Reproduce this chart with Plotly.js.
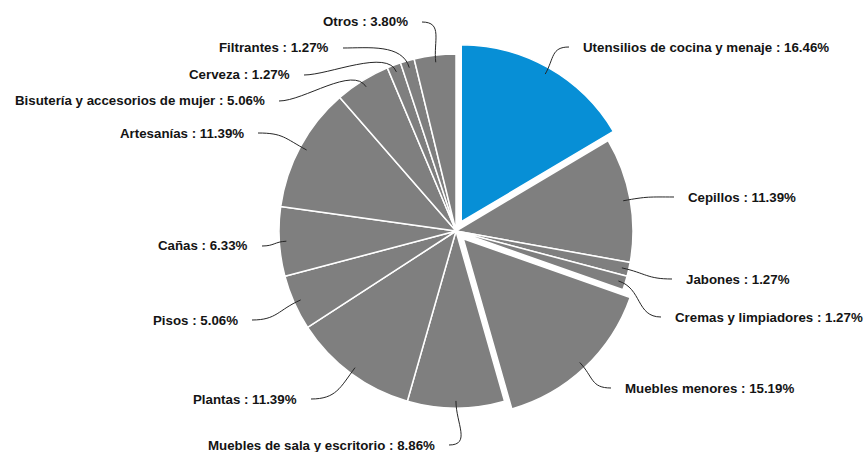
<!DOCTYPE html>
<html>
<head>
<meta charset="utf-8">
<script src="https://cdn.plot.ly/plotly-3.0.1.min.js"></script>
<style>
  body { margin: 0; background: #fff; }
  #chart { width: 867px; height: 452px; }
</style>
</head>
<body>
<div id="chart"></div>
<script>
// datos del grafico (porcentaje por categoria)
const categorias = [
    'Utensilios de cocina y menaje', 'Cepillos', 'Jabones', 'Cremas y limpiadores',
    'Muebles menores', 'Muebles de sala y escritorio', 'Plantas', 'Pisos', 'Cañas',
    'Artesanías', 'Bisutería y accesorios de mujer', 'Cerveza', 'Filtrantes', 'Otros'
];
const porcentajes = [16.46, 11.39, 1.27, 1.27, 15.19, 8.86, 11.39, 5.06, 6.33, 11.39, 5.06, 1.27, 1.27, 3.80];
const separados = [0.06, 0, 0, 0, 0.06, 0, 0, 0, 0, 0, 0, 0, 0, 0];
const colores = ['#078fd6', '#7f7f7f', '#7f7f7f', '#7f7f7f', '#7f7f7f', '#7f7f7f', '#7f7f7f',
                 '#7f7f7f', '#7f7f7f', '#7f7f7f', '#7f7f7f', '#7f7f7f', '#7f7f7f', '#7f7f7f'];

// posicion de cada etiqueta en pixeles (x, y, lado)
const etiquetas = [
    [581, 47, 'l'], [686, 197, 'l'], [684, 279, 'l'], [673, 317, 'l'],
    [623, 388, 'l'], [437, 445, 'r'], [299, 399, 'r'], [240, 320, 'r'], [250, 246, 'r'],
    [246, 133, 'r'], [267, 101, 'r'], [292, 75, 'r'], [331, 48, 'r'], [410, 22, 'r']
];

const W = 867, H = 452;
const cx = 456, cy = 231, radio = 177;
const maxPull = Math.max(...separados);
const semi = radio * (1 + maxPull);

const px = x => x / W;
const py = y => 1 - y / H;

var total = porcentajes.reduce((a, b) => a + b, 0);
var annotations = [];
var shapes = [];
var acum = 0;

for (let i = 0; i < categorias.length; i++) {
    var mitad = (acum + porcentajes[i] / 2) / total;
    acum += porcentajes[i];
    var ang = 2 * Math.PI * mitad;
    var ux = Math.sin(ang), uy = -Math.cos(ang);
    var r0 = radio * (0.96 + separados[i]);
    var x0 = cx + r0 * ux, y0 = cy + r0 * uy;

    var lx = etiquetas[i][0], ly = etiquetas[i][1], lado = etiquetas[i][2];
    var x3 = lado === 'l' ? lx - 12 : lx + 12;
    var y3 = ly;
    var d = Math.hypot(x3 - x0, y3 - y0);
    var k = Math.min(25, d * 0.5);
    var c1x = x0 + ux * k, c1y = y0 + uy * k;
    var c2x = lado === 'l' ? x3 - k : x3 + k, c2y = y3;

    shapes.push({
        type: 'path', xref: 'paper', yref: 'paper',
        path: 'M' + px(x0) + ',' + py(y0) + ' C' + px(c1x) + ',' + py(c1y) + ' ' +
              px(c2x) + ',' + py(c2y) + ' ' + px(x3) + ',' + py(y3),
        line: { color: '#262626', width: 1 }
    });

    annotations.push({
        xref: 'paper', yref: 'paper', x: px(lx), y: py(ly),
        xanchor: lado === 'l' ? 'left' : 'right', yanchor: 'middle',
        text: '<b>' + categorias[i] + ' : ' + porcentajes[i].toFixed(2) + '%</b>',
        showarrow: false,
        font: { family: 'Liberation Sans, Arial, sans-serif', size: 13.3, color: '#141414' }
    });
}

var data = [{
    type: 'pie',
    labels: categorias,
    values: porcentajes,
    sort: false,
    direction: 'clockwise',
    rotation: 0,
    pull: separados,
    marker: { colors: colores, line: { color: '#ffffff', width: 1.5 } },
    textinfo: 'none',
    hoverinfo: 'skip',
    showlegend: false,
    domain: {
        x: [px(cx - semi), px(cx + semi)],
        y: [py(cy + semi), py(cy - semi)]
    }
}];

var layout = {
    width: W, height: H,
    margin: { l: 0, r: 0, t: 0, b: 0 },
    paper_bgcolor: '#ffffff',
    showlegend: false,
    shapes: shapes,
    annotations: annotations
};

Plotly.newPlot('chart', data, layout, { staticPlot: true });
</script>
</body>
</html>
